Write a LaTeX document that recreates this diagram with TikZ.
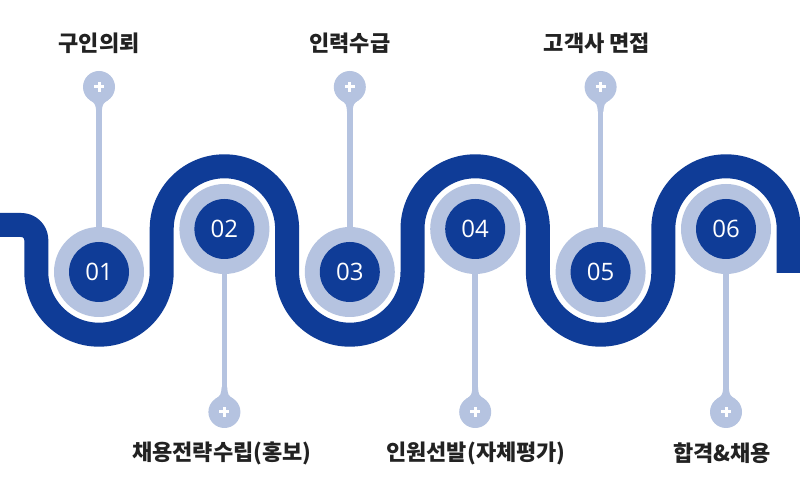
\documentclass[tikz,border=0pt]{standalone}
\usepackage{fontspec}
\setmainfont{Open Sans}
\newfontfamily\kr{Noto Sans CJK KR}
\usetikzlibrary{calc}
\definecolor{darkblue}{HTML}{0F3C97}
\definecolor{lightblue}{HTML}{B5C3E0}
\definecolor{labelgray}{HTML}{222222}
\tikzset{
  wave/.style={draw=darkblue,line width=24pt,line cap=butt,line join=round},
  ring/.style={circle,fill=lightblue,minimum size=90pt,inner sep=0pt},
  core/.style={circle,fill=darkblue,minimum size=60pt,inner sep=0pt,text=white,font=\fontsize{24}{24}\selectfont},
  pinhead/.style={circle,fill=lightblue,minimum size=32pt,inner sep=0pt},
  stem/.style={draw=lightblue,line width=5.5pt},
  plus/.style={draw=white,line width=3pt},
  steplabel/.style={text=labelgray,font=\kr\bfseries\fontsize{22}{22}\selectfont,inner sep=0pt},
}
\begin{document}
\begin{tikzpicture}[x=1pt,y=1pt]
\useasboundingbox (0,0) rectangle (800,500);
\fill[white] (0,0) rectangle (800,500);
% wave band
\draw[wave] (-5,275) -- (21.3,275) arc[start angle=90,end angle=0,radius=15]
  -- (36.3,228) arc[start angle=180,end angle=360,radius=62.7]
  -- ++(0,43) arc[start angle=180,end angle=0,radius=62.7]
  -- ++(0,-43) arc[start angle=180,end angle=360,radius=62.7]
  -- ++(0,43) arc[start angle=180,end angle=0,radius=62.7]
  -- ++(0,-43) arc[start angle=180,end angle=360,radius=62.7]
  -- ++(0,43) arc[start angle=180,end angle=0,radius=62.7]
  -- ++(0,-44);
% rings
\node[ring] (r1) at (99,228) {};
\node[ring] (r2) at (224.4,271) {};
\node[ring] (r3) at (349.8,228) {};
\node[ring] (r4) at (475.2,271) {};
\node[ring] (r5) at (600.6,228) {};
\node[ring] (r6) at (726,271) {};
% pin heads
\node[pinhead] (p1) at (99,413) {};
\node[pinhead] (p2) at (224.4,88) {};
\node[pinhead] (p3) at (349.8,413) {};
\node[pinhead] (p4) at (475.2,88) {};
\node[pinhead] (p5) at (600.6,413) {};
\node[pinhead] (p6) at (726,88) {};
% stems
\foreach \i in {1,3,5} {
  \draw[stem] (r\i.north) -- (p\i.center);
  \fill[lightblue] ($(p\i)+(-9,-13)$) .. controls ($(p\i)+(-3.5,-17)$) .. ($(p\i)+(-2.75,-25)$)
     -- ($(p\i)+(2.75,-25)$) .. controls ($(p\i)+(3.5,-17)$) .. ($(p\i)+(9,-13)$) -- cycle;
}
\foreach \i in {2,4,6} {
  \draw[stem] (r\i.south) -- (p\i.center);
  \fill[lightblue] ($(p\i)+(-9,13)$) .. controls ($(p\i)+(-3.5,17)$) .. ($(p\i)+(-2.75,25)$)
     -- ($(p\i)+(2.75,25)$) .. controls ($(p\i)+(3.5,17)$) .. ($(p\i)+(9,13)$) -- cycle;
}
\foreach \i in {1,...,6} {
  \draw[plus] ($(p\i)+(-5,0)$) -- ($(p\i)+(5,0)$);
  \draw[plus] ($(p\i)+(0,-5)$) -- ($(p\i)+(0,5)$);
}
% cores
\node[core] (c1) at (r1) {01};
\node[core] (c2) at (r2) {02};
\node[core] (c3) at (r3) {03};
\node[core] (c4) at (r4) {04};
\node[core] (c5) at (r5) {05};
\node[core] (c6) at (r6) {06};
% labels
\node[steplabel] (t1) at (99,457) {구인의뢰};
\node[steplabel] (t3) at (349.8,457) {인력수급};
\node[steplabel] (t5) at (597,457) {고객사 면접};
\node[steplabel] (t2) at (222,47) {채용전략수립(홍보)};
\node[steplabel] (t4) at (476,47) {인원선발(자체평가)};
\node[steplabel] (t6) at (722,47) {합격\&채용};
\end{tikzpicture}
\end{document}
